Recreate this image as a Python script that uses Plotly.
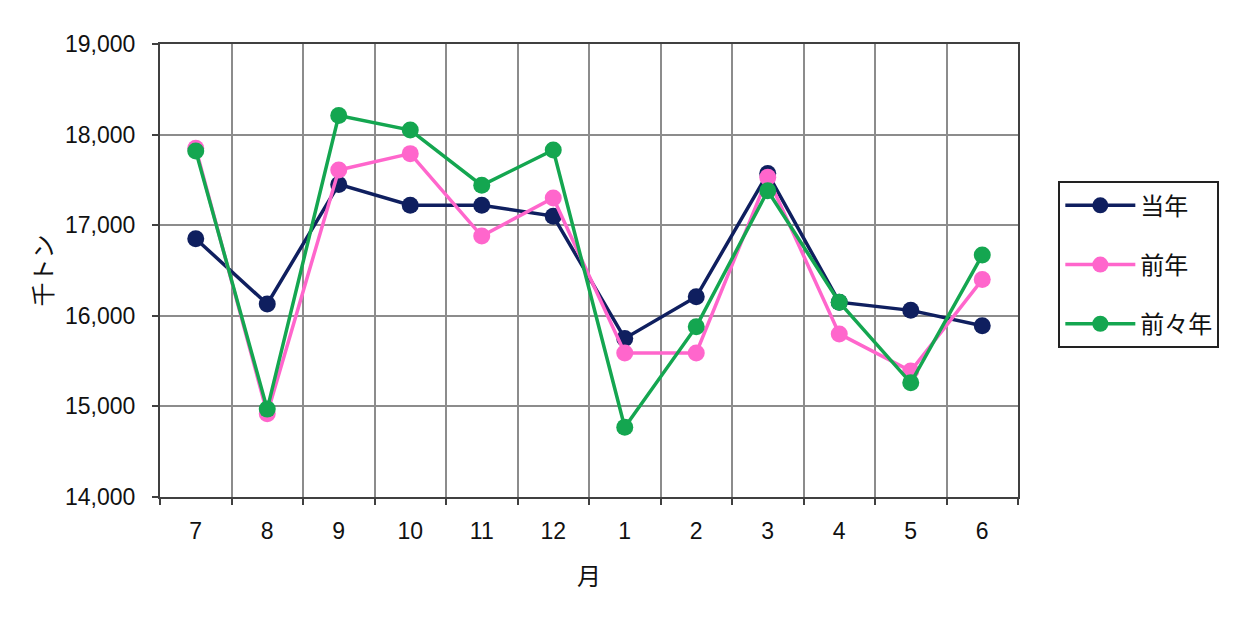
import plotly.graph_objects as go

# months (Jul -> Jun)
months = ["7", "8", "9", "10", "11", "12", "1", "2", "3", "4", "5", "6"]

# thousand tons
this_year = [16850, 16130, 17450, 17220, 17220, 17100, 15750, 16210, 17570, 16150, 16060, 15890]
last_year = [17850, 14920, 17610, 17790, 16880, 17300, 15590, 15590, 17530, 15800, 15390, 16400]
two_years_ago = [17820, 14970, 18210, 18050, 17440, 17830, 14770, 15880, 17380, 16150, 15260, 16670]

series_names = ["当年", "前年", "前々年"]
colors = ["#0f1f5f", "#ff66cc", "#14a650"]

jp_font = "Noto Sans CJK JP"
num_font = "Liberation Sans"

fig = go.Figure()
for i, (name, vals, col) in enumerate(zip(series_names, [this_year, last_year, two_years_ago], colors)):
    fig.add_trace(go.Scatter(
        x=months, y=vals, name=name,
        mode="lines+markers",
        line=dict(color=col, width=3.5),
        marker=dict(color=col, size=17),
        legendgroup=str(i),
    ))

# page body has an 8px margin, so margins are shifted by that
fig.update_layout(
    width=1240, height=617,
    margin=dict(l=152, r=230, t=36, b=128),
    plot_bgcolor="white",
    paper_bgcolor="white",
    showlegend=True,
    legend=dict(
        x=1.047, y=0.697, xanchor="left", yanchor="top",
        bordercolor="#222222", borderwidth=2,
        font=dict(family=jp_font, size=24, color="#111111"),
        tracegroupgap=25,
        itemwidth=70,
        entrywidth=113,
    ),
    xaxis=dict(
        type="category",
        range=[-0.5, 11.5],
        tickson="boundaries",
        ticks="outside", ticklen=6, tickcolor="#404040", tickwidth=2,
        showgrid=True, gridcolor="#8c8c8c", gridwidth=1.5,
        showline=True, linecolor="#404040", linewidth=2, mirror=True,
        tickfont=dict(family=num_font, size=23, color="#111111"),
        ticklabelstandoff=12,
        title=dict(text="月", font=dict(family=jp_font, size=24, color="#111111"), standoff=26),
    ),
    yaxis=dict(
        range=[14000, 19000], dtick=1000, tickformat=",",
        ticks="outside", ticklen=6, tickcolor="#404040", tickwidth=2,
        showgrid=True, gridcolor="#8c8c8c", gridwidth=1.5,
        showline=True, linecolor="#404040", linewidth=2, mirror=True,
        tickfont=dict(family=num_font, size=23, color="#111111"),
        ticklabelstandoff=12,
        title=dict(text="千トン", font=dict(family=jp_font, size=24, color="#111111"), standoff=6),
    ),
)

fig.write_html("out.html")
